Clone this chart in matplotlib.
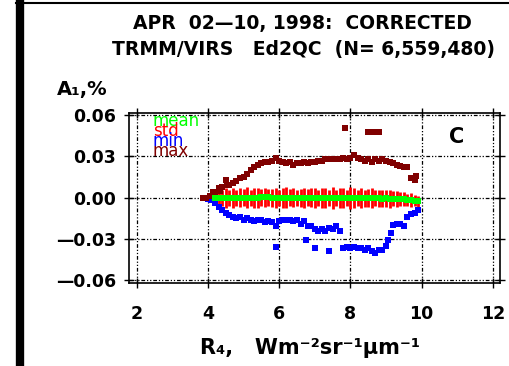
import matplotlib
matplotlib.use("Agg")
import matplotlib.pyplot as plt
from matplotlib.lines import Line2D

plt.rcParams['font.family'] = ['DejaVu Sans']

# R4 grid for mean / std
r4 = [4.2, 4.3, 4.4, 4.5, 4.6, 4.7, 4.8, 4.9,
      5.0, 5.1, 5.2, 5.3, 5.4, 5.5, 5.6, 5.7, 5.8, 5.9,
      6.0, 6.1, 6.2, 6.3, 6.4, 6.5, 6.6, 6.7, 6.8, 6.9,
      7.0, 7.1, 7.2, 7.3, 7.4, 7.5, 7.6, 7.7, 7.8, 7.9,
      8.0, 8.1, 8.2, 8.3, 8.4, 8.5, 8.6, 8.7, 8.8, 8.9,
      9.0, 9.1, 9.2, 9.3, 9.4, 9.5, 9.6, 9.7, 9.8, 9.9]
mean = [-0.0004, -0.0006, -0.0004, -0.0003, -0.0002, -0.0003, -0.0001, 0.0,
        0.0001, 0.0, -0.0002, -0.0003, -0.0001, 0.0002, 0.0003, 0.0002, 0.0, -0.0002,
        -0.0003, -0.0002, 0.0, 0.0001, -0.0001, -0.0003, -0.0004, -0.0002, 0.0, -0.0001,
        -0.0003, -0.0004, -0.0002, -0.0001, -0.0003, -0.0005, -0.0004, -0.0003, -0.0002, -0.0004,
        -0.0005, -0.0003, -0.0002, -0.0004, -0.0006, -0.0005, -0.0003, -0.0004, -0.0006, -0.0007,
        -0.0006, -0.0008, -0.0007, -0.0009, -0.0011, -0.0012, -0.0015, -0.0018, -0.0021, -0.0026]
std = [0.001, 0.005, 0.006, 0.007, 0.006, 0.0075, 0.006, 0.007,
       0.006, 0.0075, 0.006, 0.007, 0.0075, 0.006, 0.007, 0.006, 0.0065, 0.0075,
       0.006, 0.007, 0.0075, 0.006, 0.007, 0.006, 0.0065, 0.0075, 0.006, 0.007,
       0.0075, 0.006, 0.007, 0.0075, 0.006, 0.008, 0.006, 0.007, 0.0075, 0.006,
       0.008, 0.007, 0.006, 0.0075, 0.006, 0.0065, 0.0075, 0.006, 0.0065, 0.006,
       0.006, 0.0065, 0.0055, 0.006, 0.005, 0.005, 0.0045, 0.005, 0.004, 0.004]

min_x = [4.0, 4.1, 4.2, 4.3, 4.4, 4.5, 4.6, 4.7, 4.8, 4.9,
         5.0, 5.1, 5.2, 5.3, 5.4, 5.5, 5.6, 5.7, 5.8, 5.9, 5.9,
         6.0, 6.1, 6.2, 6.3, 6.4, 6.5, 6.6, 6.7, 6.75, 6.8, 6.9,
         7.0, 7.0, 7.1, 7.2, 7.3, 7.4, 7.4, 7.5, 7.6, 7.7,
         7.8, 7.9, 8.0, 8.1, 8.2, 8.3, 8.4, 8.5, 8.6, 8.7, 8.8, 8.9,
         9.0, 9.05, 9.15, 9.2, 9.3, 9.4, 9.5, 9.6, 9.7, 9.8, 9.9]
min_y = [-0.001, -0.002, -0.004, -0.007, -0.009, -0.011, -0.013, -0.014, -0.015, -0.014,
         -0.016, -0.015, -0.016, -0.017, -0.016, -0.016, -0.018, -0.017, -0.018, -0.021, -0.036,
         -0.017, -0.016, -0.016, -0.016, -0.017, -0.016, -0.019, -0.017, -0.031, -0.021, -0.021,
         -0.037, -0.023, -0.024, -0.023, -0.024, -0.022, -0.039, -0.023, -0.021, -0.024,
         -0.037, -0.036, -0.037, -0.036, -0.037, -0.037, -0.038, -0.037, -0.039, -0.040, -0.038, -0.038,
         -0.035, -0.031, -0.026, -0.020, -0.019, -0.019, -0.021, -0.014, -0.012, -0.011, -0.009]

max_x = [3.85, 3.95, 4.05, 4.15, 4.2, 4.3, 4.35, 4.4, 4.5, 4.55, 4.6, 4.7, 4.8, 4.9,
         5.0, 5.1, 5.2, 5.3, 5.4, 5.5, 5.6, 5.7, 5.8, 5.9,
         6.0, 6.1, 6.2, 6.3, 6.4, 6.5, 6.6, 6.7, 6.8, 6.9,
         7.0, 7.1, 7.2, 7.3, 7.4, 7.5, 7.6, 7.7, 7.8, 7.85, 7.9,
         8.0, 8.1, 8.2, 8.3, 8.4, 8.5, 8.5, 8.6, 8.7, 8.8, 8.6, 8.7, 8.8, 8.9,
         9.0, 9.1, 9.2, 9.3, 9.4, 9.5, 9.6, 9.7, 9.8, 9.85]
max_y = [0.0, 0.0, 0.001, 0.004, 0.003, 0.007, 0.005, 0.008, 0.013, 0.009, 0.009, 0.011, 0.012, 0.014,
         0.015, 0.017, 0.020, 0.022, 0.024, 0.025, 0.026, 0.026, 0.027, 0.029,
         0.027, 0.026, 0.025, 0.026, 0.024, 0.025, 0.025, 0.026, 0.025, 0.026,
         0.026, 0.027, 0.027, 0.028, 0.028, 0.028, 0.028, 0.028, 0.029, 0.0505, 0.028,
         0.029, 0.031, 0.029, 0.028, 0.027, 0.0285, 0.048, 0.048, 0.048, 0.048, 0.026, 0.028, 0.027, 0.028,
         0.027, 0.026, 0.025, 0.024, 0.023, 0.022, 0.022, 0.014, 0.013, 0.016]

xticks = [2, 4, 6, 8, 10, 12]
yticks = [-0.06, -0.03, 0.0, 0.03, 0.06]
ytick_labels = ['—0.06', '—0.03', '0.00', '0.03', '0.06']

fig = plt.figure(figsize=(5.09, 3.66), dpi=100)
ax = fig.add_axes([129 / 509, 1 - 283 / 366, 371 / 509, 170 / 366])

# std bars around the mean
lo = [m - s for m, s in zip(mean, std)]
hi = [m + s for m, s in zip(mean, std)]
ax.vlines(r4, lo, hi, color='#ff0000', lw=2.0, zorder=3)
ax.plot(r4, mean, 's', color='#00ff00', ms=5, mew=0, zorder=4)
ax.plot(min_x, min_y, 's', color='#0000ff', ms=3.8, mew=0, zorder=3)
ax.plot(max_x, max_y, 's', color='#800000', ms=3.8, mew=0, zorder=3)

ax.set_xlim(1.785, 12.2)
ax.set_ylim(-0.0622, 0.0617)
ax.set_xticks(xticks)
ax.set_xticklabels([str(t) for t in xticks])
ax.set_yticks(yticks)
ax.set_yticklabels(ytick_labels)
ax.grid(True, color='black', lw=0.9, linestyle=(0, (3, 1.5, 1, 1.5, 1, 1.5)))
ax.set_axisbelow(True)
ax.tick_params(direction='inout', length=7, width=1, labelsize=12.5)
ax.tick_params(axis='x', pad=12)
ax.tick_params(axis='y', pad=6)
ax.tick_params(top=True, right=True, labeltop=False, labelright=False)
for lbl in ax.get_xticklabels() + ax.get_yticklabels():
    lbl.set_fontweight('bold')
for sp in ax.spines.values():
    sp.set_linewidth(1.2)

# legend-like labels
leg = [('mean', '#00ff00'), ('std', '#ff0000'), ('min', '#0000ff'), ('max', '#800000')]
for i, (t, c) in enumerate(leg):
    fig.text(153 / 509, 1 - (121 + i * 10) / 366, t, color=c, fontsize=12,
             ha='left', va='center')

fig.text(457 / 509, 1 - 137 / 366, 'C', fontsize=15, fontweight='bold',
         ha='center', va='center')

fig.text(302 / 509, 1 - 24 / 366, 'APR  02—10, 1998:  CORRECTED', fontsize=13.5,
         fontweight='bold', ha='center', va='center')
fig.text(303 / 509, 1 - 50 / 366, 'TRMM/VIRS   Ed2QC  (N= 6,559,480)', fontsize=13.5,
         fontweight='bold', ha='center', va='center')
fig.text(57 / 509, 1 - 90 / 366, 'A₁,%', fontsize=14, fontweight='bold',
         ha='left', va='center')
fig.text(310 / 509, 1 - 348 / 366, 'R₄,   Wm⁻²sr⁻¹μm⁻¹', fontsize=15,
         fontweight='bold', ha='center', va='center')

# page borders from the scanned figure
fig.add_artist(Line2D([20 / 509, 20 / 509], [0, 1], color='black', lw=6))
fig.add_artist(Line2D([16 / 509, 1], [1 - 3 / 366, 1 - 3 / 366], color='black', lw=1.5))

fig.savefig('out.png', dpi=100)
